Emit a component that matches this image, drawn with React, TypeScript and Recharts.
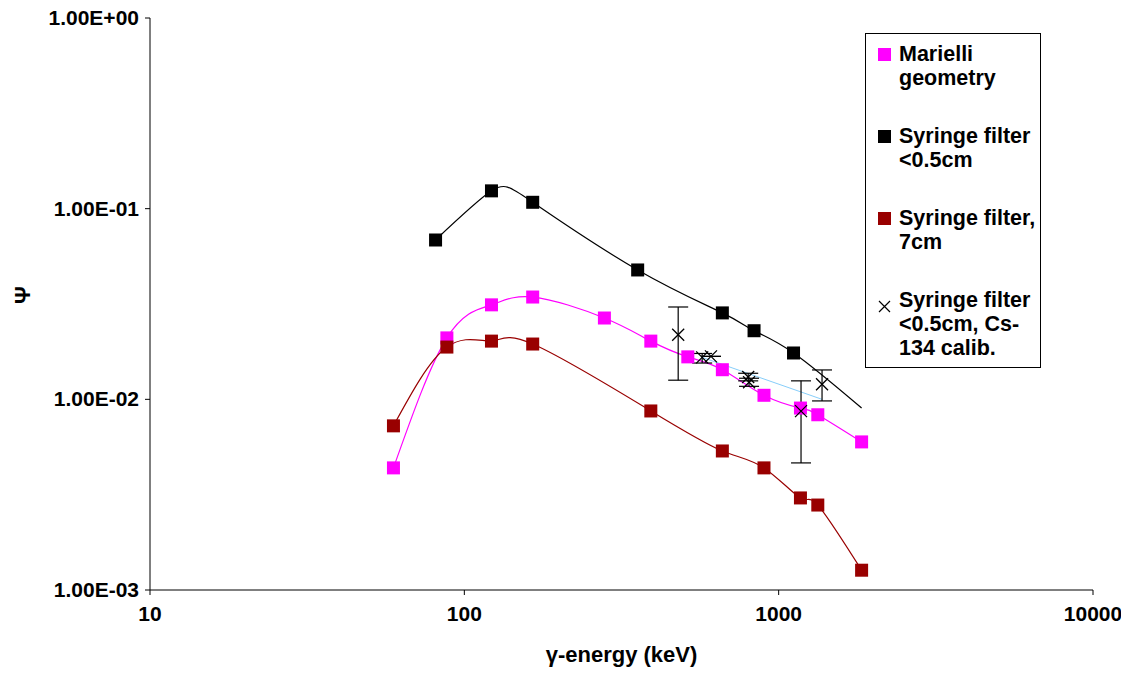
import { ComposedChart, Line, Scatter, XAxis, YAxis, ErrorBar, Label } from "recharts";

// γ-energy (keV) and Ψ values
const marielliX = [59.5, 88, 122, 165, 279, 392, 514, 662, 898, 1173, 1332, 1836];
const marielliY = [0.00437, 0.021, 0.0313, 0.0344, 0.0267, 0.0202, 0.0167, 0.0143, 0.0105, 0.009, 0.0083, 0.00598];

const syringeX = [81, 122, 165, 356, 662, 835, 1115];
const syringeY = [0.0685, 0.124, 0.108, 0.0477, 0.0284, 0.0229, 0.0175];
// end of the black trend line (no marker)
const syringeCurveEnd = { x: 1836, y: 0.009 };

const syringe7X = [59.5, 88, 122, 165, 392, 662, 898, 1173, 1332, 1836];
const syringe7Y = [0.00726, 0.0188, 0.0202, 0.0195, 0.00869, 0.00536, 0.00437, 0.00304, 0.00279, 0.00127];

const csX = [479, 571, 609, 800, 805, 1178, 1374];
const csY = [0.0218, 0.0166, 0.0168, 0.0131, 0.0123, 0.00867, 0.012];
const csLow = [0.0126, 0.0155, 0.0168, 0.0125, 0.0117, 0.00464, 0.00981];
const csHigh = [0.0305, 0.0174, 0.0168, 0.0137, 0.0129, 0.0125, 0.01426];

const blueX = [571, 1374];
const blueY = [0.0166, 0.01];

const xTicks = [10, 100, 1000, 10000];
const yTicks = [0.001, 0.01, 0.1, 1];

const zip = (xs: number[], ys: number[]) => xs.map((x, i) => ({ x, y: ys[i] }));

const marielli = zip(marielliX, marielliY);
const syringe = zip(syringeX, syringeY);
const syringeCurve = [...syringe, syringeCurveEnd];
const syringe7 = zip(syringe7X, syringe7Y);
const cs = csX.map((x, i) => ({ x, y: csY[i], err: [csY[i] - csLow[i], csHigh[i] - csY[i]] }));
const blue = zip(blueX, blueY);

const fmtY = (v: number) => {
  const e = Math.round(Math.log10(v));
  const sign = e < 0 ? "-" : "+";
  return `1.00E${sign}${String(Math.abs(e)).padStart(2, "0")}`;
};

const square = (color: string) => (p: any) => (
  <rect x={p.cx - 6.5} y={p.cy - 6.5} width={13} height={13} fill={color} />
);
const cross = (p: any) => (
  <path d={`M${p.cx - 6},${p.cy - 6}L${p.cx + 6},${p.cy + 6}M${p.cx + 6},${p.cy - 6}L${p.cx - 6},${p.cy + 6}`} stroke="#000" strokeWidth={1.3} />
);

const font = "'Liberation Sans', Arial, sans-serif";
const txt = { fontSize: 21, fontWeight: 700, fill: "#000", fontFamily: font };

const XTick = (p: any) => (
  <text x={p.x} y={p.y + 24} textAnchor="middle" style={txt}>
    {p.payload.value}
  </text>
);
const YTick = (p: any) => (
  <text x={p.x - 4} y={p.y + 7} textAnchor="end" style={txt}>
    {fmtY(p.payload.value)}
  </text>
);

const legendItems = [
  { color: "#ff00ff", text: ["Marielli", "geometry"] },
  { color: "#000000", text: ["Syringe filter", "<0.5cm"] },
  { color: "#990000", text: ["Syringe filter,", "7cm"] },
  { color: "", text: ["Syringe filter", "<0.5cm, Cs-", "134 calib."] },
];

export default function App() {
  return (
    <div style={{ position: "relative", width: 1121, height: 660, fontFamily: font }}>
      <ComposedChart width={1121} height={660} margin={{ top: 10, right: 36, left: 0, bottom: 38 }} style={{ overflow: "visible" }}>
        <XAxis type="number" dataKey="x" scale="log" domain={[10, 10000]} ticks={xTicks} allowDataOverflow
          tick={<XTick />} stroke="#000" tickSize={5} height={40}>
          <Label value="γ-energy (keV)" position="insideBottom" offset={-32} style={{ ...txt, fontSize: 22 }} />
        </XAxis>
        <YAxis type="number" dataKey="y" scale="log" domain={[0.001, 1]} ticks={yTicks} allowDataOverflow
          tick={<YTick />} stroke="#000" tickSize={5} width={142}>
          <Label value="Ψ" angle={-90} position="insideLeft" offset={14} style={{ ...txt, fontSize: 22 }} />
        </YAxis>
        <Line data={blue} dataKey="y" type="linear" stroke="#87cefa" strokeWidth={1} dot={false} isAnimationActive={false} />
        <Line data={syringeCurve} dataKey="y" type="natural" stroke="#000" strokeWidth={1.2} dot={false} isAnimationActive={false} />
        <Line data={marielli} dataKey="y" type="natural" stroke="#ff00ff" strokeWidth={1.2} dot={false} isAnimationActive={false} />
        <Line data={syringe7} dataKey="y" type="natural" stroke="#990000" strokeWidth={1.2} dot={false} isAnimationActive={false} />
        <Scatter data={marielli} dataKey="y" shape={square("#ff00ff")} isAnimationActive={false} />
        <Scatter data={syringe} dataKey="y" shape={square("#000")} isAnimationActive={false} />
        <Scatter data={syringe7} dataKey="y" shape={square("#990000")} isAnimationActive={false} />
        <Scatter data={cs} dataKey="y" shape={cross} isAnimationActive={false}>
          <ErrorBar dataKey="err" direction="y" width={10} stroke="#000" strokeWidth={1.2} isAnimationActive={false} />
        </Scatter>
      </ComposedChart>
      <div style={{ position: "absolute", left: 857, top: 25, width: 176, height: 335, border: "1px solid #000", background: "#fff", boxSizing: "border-box", padding: "8px 0 0 12px" }}>
        {legendItems.map((it, i) => (
          <div key={i} style={{ display: "flex", marginBottom: 34, fontSize: 21.5, fontWeight: 700, lineHeight: "24px" }}>
            <div style={{ width: 21, paddingTop: 6, flexShrink: 0 }}>
              {it.color ? (
                <div style={{ width: 13, height: 13, background: it.color }} />
              ) : (
                <svg width={13} height={13}><path d="M1,1L12,12M12,1L1,12" stroke="#000" strokeWidth={1.2} /></svg>
              )}
            </div>
            <div style={{ whiteSpace: "nowrap" }}>{it.text.map((t) => <div key={t}>{t}</div>)}</div>
          </div>
        ))}
      </div>
    </div>
  );
}
